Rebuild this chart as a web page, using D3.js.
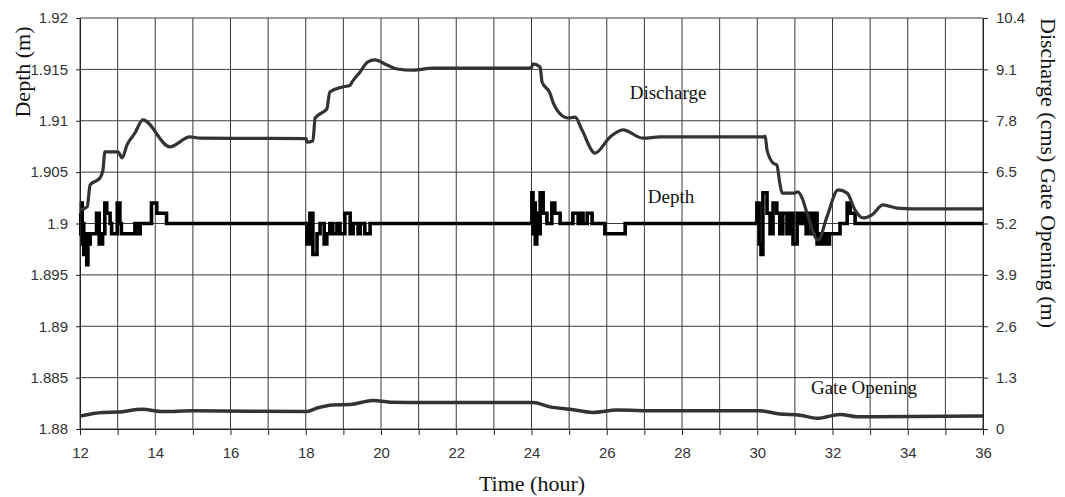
<!DOCTYPE html>
<html lang="en">
<head>
    <meta charset="UTF-8" />
    <title>Depth, Discharge and Gate Opening</title>
    <script src="https://d3js.org/d3.v7.min.js"></script>
    <style>
        body { margin: 0; background: #fff; }
        .tick text { font-family: "Liberation Sans", Arial, sans-serif; font-size: 15px; fill: #333; }
        .tick line, .domain { stroke: #222; }
        .grid line { stroke: #3a3a3a; stroke-width: 1; }
        .title { font-family: "Liberation Serif", "Times New Roman", serif; font-size: 22px; fill: #111; }
        .label { font-family: "Liberation Serif", "Times New Roman", serif; font-size: 19px; fill: #111; }
    </style>
</head>
<body>
    <div id="chart"></div>

    <script>
        var width = 1065, height = 497;
        var margin = { top: 18, right: 82, bottom: 68, left: 80 };

        // axis ticks
        const hourTicks = d3.range(12, 37);
        const depthTicks = [1.88, 1.885, 1.89, 1.895, 1.9, 1.905, 1.91, 1.915, 1.92];
        const depthTickLabels = ["1.88", "1.885", "1.89", "1.895", "1.9", "1.905", "1.91", "1.915", "1.92"];
        const flowTicks = [0, 1.3, 2.6, 3.9, 5.2, 6.5, 7.8, 9.1, 10.4];
        const flowTickLabels = ["0", "1.3", "2.6", "3.9", "5.2", "6.5", "7.8", "9.1", "10.4"];

        // discharge (cms) [hour, value]
        const discharge = [
            [12.00, 5.54], [12.19, 5.62], [12.27, 6.18], [12.53, 6.35], [12.61, 6.55], [12.66, 7.01],
            [13.01, 7.01], [13.12, 6.86], [13.25, 7.19], [13.46, 7.49], [13.67, 7.82], [14.39, 7.14],
            [14.92, 7.39], [15.19, 7.36], [18.01, 7.35], [18.03, 7.26], [18.19, 7.29], [18.25, 7.87],
            [18.46, 8.02], [18.56, 8.10], [18.64, 8.53], [18.96, 8.65], [19.18, 8.70], [19.23, 8.78],
            [19.44, 9.03], [19.65, 9.29], [19.84, 9.34], [20.16, 9.21], [20.43, 9.11], [20.85, 9.08],
            [21.38, 9.13], [23.99, 9.13], [24.04, 9.24], [24.23, 9.16], [24.28, 8.78], [24.49, 8.50],
            [24.57, 8.27], [24.68, 8.07], [24.97, 7.87], [25.16, 7.89], [25.34, 7.57], [25.69, 6.98],
            [26.09, 7.39], [26.43, 7.57], [26.96, 7.36], [27.42, 7.39], [30.15, 7.39], [30.21, 7.41],
            [30.26, 7.06], [30.42, 6.73], [30.52, 6.68], [30.60, 6.22], [30.66, 5.97], [31.00, 5.97],
            [31.08, 6.00], [31.19, 5.85], [31.32, 5.47], [31.62, 4.78], [31.85, 5.36], [32.15, 6.05],
            [32.39, 5.97], [32.60, 5.54], [32.81, 5.34], [33.05, 5.42], [33.34, 5.67], [33.71, 5.59],
            [34.14, 5.57], [36.00, 5.57]
        ];

        // gate opening (m) [hour, value]
        const gateOpening = [
            [12.00, 0.33], [12.61, 0.42], [13.01, 0.43], [13.65, 0.50], [14.21, 0.44], [15.00, 0.46],
            [18.03, 0.44], [18.30, 0.53], [18.72, 0.61], [19.18, 0.62], [19.79, 0.72], [20.24, 0.68],
            [21.22, 0.67], [24.04, 0.67], [24.49, 0.56], [25.02, 0.50], [25.63, 0.42], [26.27, 0.48],
            [27.34, 0.46], [30.07, 0.46], [30.60, 0.38], [31.14, 0.35], [31.59, 0.27], [32.20, 0.37],
            [32.65, 0.31], [36.00, 0.33]
        ];

        // depth (m) [hour, value], held until next point
        const depth = [
            [12.00, 1.901], [12.02, 1.899], [12.04, 1.902], [12.06, 1.898], [12.08, 1.900], [12.10, 1.897],
            [12.13, 1.899], [12.15, 1.898], [12.18, 1.896], [12.21, 1.899], [12.24, 1.898], [12.27, 1.899],
            [12.44, 1.901], [12.51, 1.898], [12.60, 1.899], [12.66, 1.902], [12.71, 1.901], [12.80, 1.900],
            [12.84, 1.899], [12.99, 1.902], [13.06, 1.900], [13.10, 1.899], [13.46, 1.900], [13.52, 1.899],
            [13.60, 1.900], [13.90, 1.902], [14.04, 1.901], [14.30, 1.900],
            [18.03, 1.898], [18.11, 1.901], [18.19, 1.897], [18.30, 1.899], [18.38, 1.900], [18.49, 1.898],
            [18.56, 1.899], [18.64, 1.900], [18.72, 1.899], [18.83, 1.900], [18.91, 1.899], [19.04, 1.901],
            [19.18, 1.899], [19.26, 1.900], [19.39, 1.899], [19.45, 1.900], [19.57, 1.899], [19.71, 1.900],
            [24.01, 1.903], [24.04, 1.899], [24.07, 1.902], [24.10, 1.898], [24.14, 1.901], [24.20, 1.899],
            [24.23, 1.903], [24.31, 1.901], [24.41, 1.900], [24.54, 1.902], [24.62, 1.901], [24.76, 1.900],
            [25.10, 1.901], [25.24, 1.900], [25.29, 1.901], [25.37, 1.900], [25.48, 1.901], [25.61, 1.900],
            [25.95, 1.899], [26.49, 1.900],
            [29.99, 1.902], [30.05, 1.898], [30.10, 1.897], [30.15, 1.903], [30.26, 1.901], [30.34, 1.899],
            [30.42, 1.902], [30.52, 1.901], [30.60, 1.899], [30.68, 1.901], [30.79, 1.899], [30.87, 1.901],
            [30.95, 1.898], [31.06, 1.901], [31.14, 1.900], [31.22, 1.901], [31.30, 1.899], [31.35, 1.901],
            [31.45, 1.899], [31.50, 1.901], [31.59, 1.898], [31.65, 1.899], [31.70, 1.898], [31.78, 1.899],
            [31.84, 1.898], [31.92, 1.899], [32.20, 1.900], [32.39, 1.902], [32.47, 1.901], [32.60, 1.900],
            [36.00, 1.900]
        ];

        let svg = d3.select("#chart")
            .append("svg")
            .attr("width", width)
            .attr("height", height);

        var x = d3.scaleLinear().domain([12, 36]).range([margin.left, width - margin.right]);
        var yDepth = d3.scaleLinear().domain([1.88, 1.92]).range([height - margin.bottom, margin.top]);
        var yFlow = d3.scaleLinear().domain([0, 10.4]).range([height - margin.bottom, margin.top]);

        // grid
        let grid = svg.append("g").attr("class", "grid");
        grid.selectAll(".v").data(hourTicks).enter().append("line")
            .attr("x1", d => x(d)).attr("x2", d => x(d))
            .attr("y1", margin.top).attr("y2", height - margin.bottom);
        grid.selectAll(".h").data(depthTicks).enter().append("line")
            .attr("x1", margin.left).attr("x2", width - margin.right)
            .attr("y1", d => yDepth(d)).attr("y2", d => yDepth(d));

        // lines
        const depthLine = d3.line().x(d => x(d[0])).y(d => yDepth(d[1])).curve(d3.curveStepAfter);
        const flowLine = d3.line().x(d => x(d[0])).y(d => yFlow(d[1])).curve(d3.curveMonotoneX);

        svg.append("path").datum(depth).attr("d", depthLine)
            .attr("fill", "none").attr("stroke", "#000").attr("stroke-width", 3.6);
        svg.append("path").datum(discharge).attr("d", flowLine)
            .attr("fill", "none").attr("stroke", "#333").attr("stroke-width", 3.2)
            .attr("stroke-linejoin", "round");
        svg.append("path").datum(gateOpening).attr("d", flowLine)
            .attr("fill", "none").attr("stroke", "#333").attr("stroke-width", 3.5);

        // axes
        svg.append("g")
            .attr("transform", `translate(0,${height - margin.bottom})`)
            .call(d3.axisBottom(x).tickValues(hourTicks).tickSize(6).tickPadding(12)
                .tickFormat(d => d % 2 === 0 ? d : ""));
        svg.append("g")
            .attr("transform", `translate(${margin.left},0)`)
            .call(d3.axisLeft(yDepth).tickValues(depthTicks).tickSize(4).tickPadding(8)
                .tickFormat((d, i) => depthTickLabels[i]));
        svg.append("g")
            .attr("transform", `translate(${width - margin.right},0)`)
            .call(d3.axisRight(yFlow).tickValues(flowTicks).tickSize(5).tickPadding(8)
                .tickFormat((d, i) => flowTickLabels[i]));

        // titles
        svg.append("text").attr("class", "title")
            .attr("x", 532).attr("y", 491).attr("text-anchor", "middle")
            .text("Time (hour)");
        svg.append("text").attr("class", "title")
            .attr("transform", "translate(30,72) rotate(-90)").attr("text-anchor", "middle")
            .text("Depth (m)");
        svg.append("text").attr("class", "title")
            .attr("transform", "translate(1041,173) rotate(90)").attr("text-anchor", "middle")
            .text("Discharge (cms) Gate Opening (m)");

        // series labels
        svg.append("text").attr("class", "label").attr("x", 668).attr("y", 99)
            .attr("text-anchor", "middle").text("Discharge");
        svg.append("text").attr("class", "label").attr("x", 671).attr("y", 203)
            .attr("text-anchor", "middle").text("Depth");
        svg.append("text").attr("class", "label").attr("x", 864).attr("y", 394)
            .attr("text-anchor", "middle").text("Gate Opening");
    </script>
</body>
</html>
